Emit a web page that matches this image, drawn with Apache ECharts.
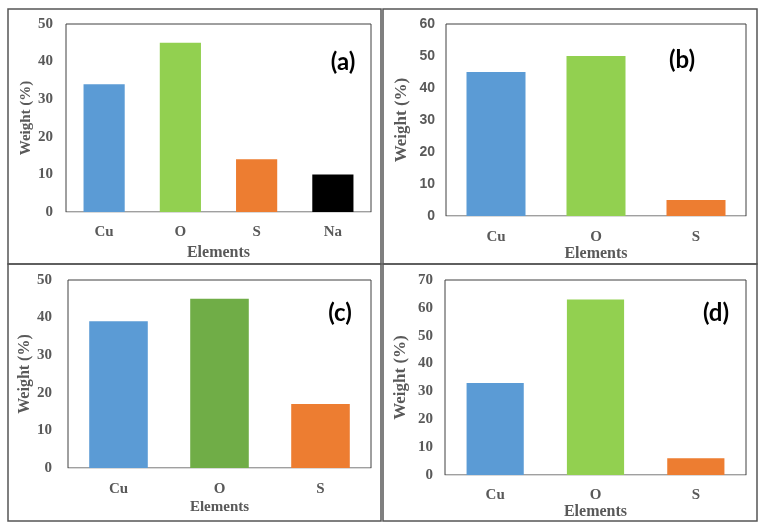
<!DOCTYPE html>
<html>
<head>
<meta charset="utf-8">
<script src="https://cdn.jsdelivr.net/npm/echarts@6/dist/echarts.min.js"></script>
<style>
  html, body { margin: 0; padding: 0; background: #fff; }
  #chart { width: 767px; height: 529px; }
</style>
</head>
<body>
<div id="chart"></div>
<script>
// data
const catsA = ['Cu', 'O', 'S', 'Na']
const weightA = [34, 45, 14, 10]
const catsB = ['Cu', 'O', 'S']
const weightB = [45, 50, 5]
const catsC = ['Cu', 'O', 'S']
const weightC = [39, 45, 17]
const catsD = ['Cu', 'O', 'S']
const weightD = [33, 63, 6]
const yMaxA = 50
const yMaxB = 60
const yMaxC = 50
const yMaxD = 70
const panelLabels = ['(a)', '(b)', '(c)', '(d)']

const serif = 'Liberation Serif'
const sans = 'Liberation Sans'
const grey = '#595959'

const colorsA = ['#5B9BD5', '#92D050', '#ED7D31', '#000000']
const colorsB = ['#5B9BD5', '#92D050', '#ED7D31']
const colorsC = ['#5B9BD5', '#70AD47', '#ED7D31']
const colorsD = ['#5B9BD5', '#92D050', '#ED7D31']

const panels = [
  { cats: catsA, vals: weightA, max: yMaxA, colors: colorsA, grid: { left: 66, top: 24, width: 305, height: 188 },
    barWidth: '54%', tickFont: serif, tickSize: 15, tickMargin: 13, catMargin: 13, nameGapX: 33, nameSizeX: 16,
    nameGapY: 31, nameSizeY: 15 },
  { cats: catsB, vals: weightB, max: yMaxB, colors: colorsB, grid: { left: 446, top: 24, width: 300, height: 192 },
    barWidth: '59%', tickFont: sans, tickSize: 14, tickMargin: 11, catMargin: 14, nameGapX: 30, nameSizeX: 16,
    nameGapY: 36, nameSizeY: 17 },
  { cats: catsC, vals: weightC, max: yMaxC, colors: colorsC, grid: { left: 68, top: 280, width: 303, height: 188 },
    barWidth: '58%', tickFont: serif, tickSize: 15, tickMargin: 16, catMargin: 14, nameGapX: 32, nameSizeX: 15,
    nameGapY: 35, nameSizeY: 16 },
  { cats: catsD, vals: weightD, max: yMaxD, colors: colorsD, grid: { left: 445, top: 280, width: 301, height: 195 },
    barWidth: '57%', tickFont: serif, tickSize: 15, tickMargin: 12, catMargin: 13, nameGapX: 25, nameSizeX: 16,
    nameGapY: 36, nameSizeY: 17 }
]

// outer boxes + panel tags
const boxes = [
  { x: 8, y: 9, w: 373, h: 255 },
  { x: 383, y: 9, w: 374, h: 255 },
  { x: 8, y: 264, w: 373, h: 257 },
  { x: 383, y: 264, w: 374, h: 257 }
]
const tagPos = [[343, 62], [682, 60], [340, 313], [716, 313]]

const graphic = []
boxes.forEach(b => {
  graphic.push({
    type: 'rect', silent: true, z: 0,
    shape: { x: b.x, y: b.y, width: b.w, height: b.h },
    style: { fill: null, stroke: '#555', lineWidth: 1.5 }
  })
})
panelLabels.forEach((t, i) => {
  graphic.push({
    type: 'text', z: 10, x: tagPos[i][0], y: tagPos[i][1],
    style: { text: t, fontFamily: 'Lato', fontWeight: 'bold', fontSize: 24, fill: '#000', align: 'center', verticalAlign: 'middle' }
  })
})

const chart = echarts.init(document.getElementById('chart'))
chart.setOption({
  animation: false,
  backgroundColor: '#fff',
  graphic: graphic,
  grid: panels.map(p => Object.assign({ show: true, borderColor: '#404040', borderWidth: 1, backgroundColor: '#fff' }, p.grid)),
  xAxis: panels.map((p, i) => ({
    type: 'category',
    gridIndex: i,
    data: p.cats,
    name: 'Elements',
    nameLocation: 'middle',
    nameGap: p.nameGapX,
    nameTextStyle: { fontFamily: serif, fontWeight: 'bold', fontSize: p.nameSizeX, color: grey },
    axisTick: { show: false },
    axisLine: { show: true, lineStyle: { color: '#d9d9d9' } },
    axisLabel: { margin: p.catMargin, fontFamily: serif, fontWeight: 'bold', fontSize: 15, color: grey }
  })),
  yAxis: panels.map((p, i) => ({
    type: 'value',
    gridIndex: i,
    min: 0,
    max: p.max,
    interval: 10,
    name: 'Weight (%)',
    nameLocation: 'middle',
    nameGap: p.nameGapY,
    nameTextStyle: { fontFamily: serif, fontWeight: 'bold', fontSize: p.nameSizeY, color: grey },
    axisLine: { show: false },
    axisTick: { show: false },
    splitLine: { show: false },
    axisLabel: { margin: p.tickMargin, fontFamily: p.tickFont, fontWeight: 'bold', fontSize: p.tickSize, color: grey }
  })),
  series: panels.map((p, i) => ({
    type: 'bar',
    xAxisIndex: i,
    yAxisIndex: i,
    barWidth: p.barWidth,
    data: p.vals.map((v, k) => ({ value: v, itemStyle: { color: p.colors[k] } }))
  }))
})
</script>
</body>
</html>
